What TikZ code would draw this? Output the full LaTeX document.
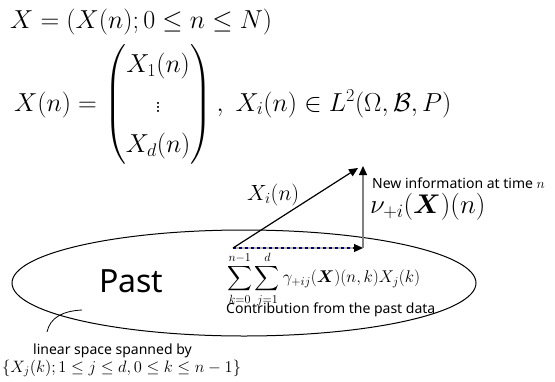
\RequirePackage{fix-cm}
\documentclass[tikz,border=0pt]{standalone}
\usepackage{amsmath,bm}
\usepackage{fontspec}
\newfontfamily\gothic{Noto Sans}
\usetikzlibrary{arrows.meta}

\begin{document}
\begin{tikzpicture}[
  x=1pt,y=-1pt,
  every node/.style={inner sep=0pt,anchor=base west},
  bigmath/.style={font=\fontsize{26}{31}\selectfont},
  midmath/.style={font=\fontsize{22}{26}\selectfont},
  summath/.style={font=\fontsize{17}{20}\selectfont},
  setmath/.style={font=\fontsize{16.5}{20}\selectfont},
  caption/.style={font=\gothic\fontsize{14}{17}\selectfont},
  vec/.style={-{Triangle[length=9pt,width=8pt,color=black]},line width=1.2pt}
]
  \useasboundingbox (0,0) rectangle (555,381);

  % the process and its components
  \node[bigmath] (proc) at (10,28) {$X=(X(n);0\le n\le N)$};
  \node[bigmath] (comp) at (14,111) {$X(n)=\renewcommand{\arraystretch}{1.3}\begin{pmatrix}X_1(n)\\ \vdots\\ X_d(n)\end{pmatrix},\ X_i(n)\in L^2(\Omega,\mathcal{B},P)$};

  % past as a linear space
  \draw[line width=1pt] (244,283) ellipse [x radius=232,y radius=53];
  \node[font=\gothic\fontsize{32}{38}\selectfont] (past) at (99,292) {Past};

  % decomposition of X_i(n)
  \coordinate (o) at (233,248);
  \coordinate (p) at (363,248);
  \coordinate (t) at (363,166);
  \coordinate (d) at (358,168);
  \draw[gray!55,line width=1.3pt] (o) -- ([xshift=-6pt]p);
  \draw[vec,blue!45!black,dashed] (o) -- (p);
  \draw[vec,gray] (p) -- (t);
  \draw[vec] (o) -- (d);

  \node[midmath] (xi) at (247,200) {$X_i(n)$};
  \node[caption] (newinfo) at (372,188) {New information at time $n$};
  \node[font=\fontsize{27}{32}\selectfont] (nu) at (370,213) {$\nu_{+i}(\bm{X})(n)$};
  \node[summath,anchor=north west] (sum) at (227,251) {$\displaystyle\sum_{k=0}^{n-1}\sum_{j=1}^{d}\gamma_{+ij}(\bm{X})(n,k)X_j(k)$};
  \node[caption] (contrib) at (226,313) {Contribution from the past data};

  % label of the space
  \node[caption] (span) at (33,354) {linear space spanned by};
  \node[setmath] (set) at (2,372) {$\{X_j(k);1\le j\le d,0\le k\le n-1\}$};
  \coordinate (foot) at (47,332);
  \coordinate (rim) at (82,310);
  \draw[line width=0.8pt] (foot) .. controls (50,318) and (62,311) .. (rim);
\end{tikzpicture}
\end{document}
